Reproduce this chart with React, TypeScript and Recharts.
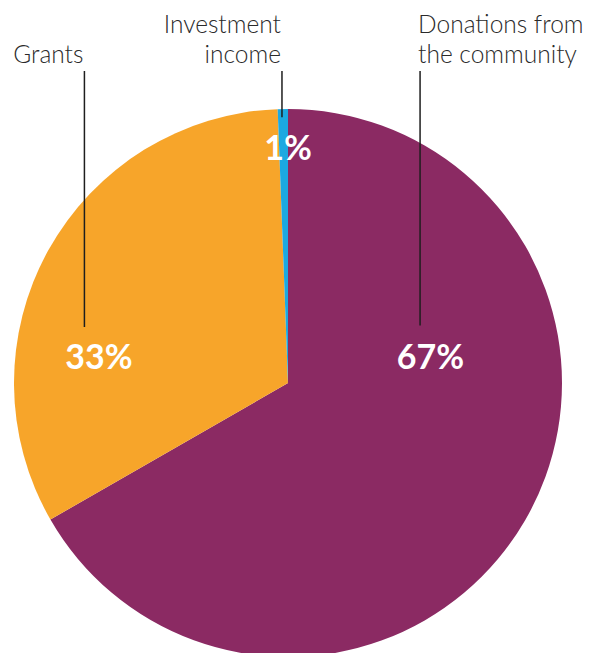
import { PieChart, Pie, Cell } from 'recharts'

const names = ['Donations from the community', 'Grants', 'Investment income']
const titleLines = [['Donations from', 'the community'], ['Grants'], ['Investment', 'income']]
const values = [66.7, 32.7, 0.6]
const pctLabels = ['67%', '33%', '1%']
const colors = ['#8b2a63', '#f7a52a', '#1ca9e1']

const W = 590
const H = 653
const CX = 288
const CY = 383
const R = 274

// where each slice's annotation sits, relative to the pie centre (in radii)
const layout = [
  { lineX: 0.482, lineEnd: -0.21, anchor: 'start', pctX: 0.52, pctY: -0.1 },
  { lineX: -0.743, lineEnd: -0.204, anchor: 'end', pctX: -0.69, pctY: -0.1 },
  { lineX: -0.022, lineEnd: -0.97, anchor: 'end', pctX: 0, pctY: -0.863 },
]

const data = names.map((name, i) => ({ name, value: values[i] }))

const renderLabel = (props: any) => {
  const { index } = props
  const l = layout[index]
  const lx = CX + l.lineX * R
  const lines = titleLines[index]
  const textX = l.anchor === 'start' ? lx - 2 : lx - 1
  return (
    <g key={`lbl-${index}`}>
      <line x1={lx} x2={lx} y1={71} y2={CY + l.lineEnd * R} stroke="#1e1e1e" strokeWidth={1.5} />
      {lines.map((t, j) => (
        <text
          key={j}
          x={textX}
          y={63 - (lines.length - 1 - j) * 30}
          textAnchor={l.anchor}
          fill="#2a2a2a"
          fontSize={24.5}
          fontWeight={300}
          fontFamily="Lato, 'Open Sans', sans-serif"
        >
          {t}
        </text>
      ))}
      <text
        x={CX + l.pctX * R}
        y={CY + l.pctY * R}
        textAnchor="middle"
        dominantBaseline="central"
        fill="#ffffff"
        fontSize={34}
        fontWeight={700}
        fontFamily="Lato, 'Open Sans', sans-serif"
      >
        {pctLabels[index]}
      </text>
    </g>
  )
}

export default function App() {
  return (
    <div style={{ position: 'absolute', left: 0, top: 0, width: W, height: H, background: '#fff', overflow: 'hidden' }}>
      <PieChart width={W} height={H} margin={{ top: 0, right: 0, bottom: 0, left: 0 }}>
        <Pie
          data={data}
          dataKey="value"
          nameKey="name"
          cx={CX}
          cy={CY}
          outerRadius={R}
          startAngle={90}
          endAngle={-270}
          stroke="none"
          label={renderLabel}
          labelLine={false}
          isAnimationActive={false}
        >
          {data.map((d, i) => (
            <Cell key={d.name} fill={colors[i]} />
          ))}
        </Pie>
      </PieChart>
    </div>
  )
}
